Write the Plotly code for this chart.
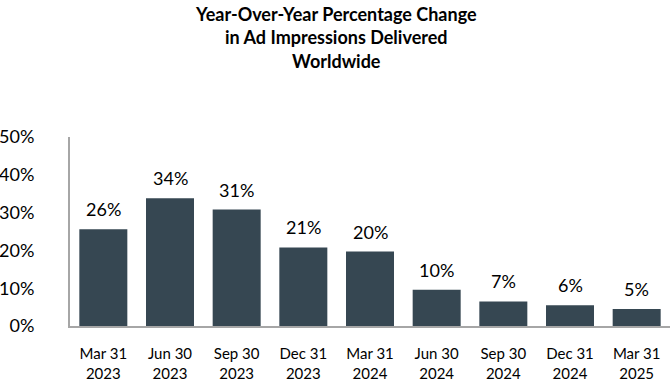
import plotly.graph_objects as go

categories = ["Mar 31<br>2023", "Jun 30<br>2023", "Sep 30<br>2023", "Dec 31<br>2023",
              "Mar 31<br>2024", "Jun 30<br>2024", "Sep 30<br>2024", "Dec 31<br>2024",
              "Mar 31<br>2025"]
values = [25.6, 33.8, 30.8, 20.8, 19.7, 9.6, 6.5, 5.5, 4.5]
value_labels = ["26%", "34%", "31%", "21%", "20%", "10%", "7%", "6%", "5%"]
y_ticks = [0, 10, 20, 30, 40, 50]
y_tick_labels = ["0%", "10%", "20%", "30%", "40%", "50%"]
title_text = "<b>Year-Over-Year Percentage Change<br>in Ad Impressions Delivered<br>Worldwide</b>"

FONT = "Lato"
W, H = 672, 384
ML, MR, MT, MB = 70, 2, 137, 58
plot_h = H - MT - MB

fig = go.Figure()
fig.add_trace(go.Bar(
    x=categories, y=values,
    marker=dict(color="#364752", line=dict(width=0)),
    width=0.72,
    hoverinfo="skip",
))

for c, v, t in zip(categories, values, value_labels):
    fig.add_annotation(x=c, y=v, text=t, showarrow=False, yanchor="middle",
                       yshift=20, font=dict(family=FONT, size=18, color="#000000"))

# title as annotation placed near the top of the page
fig.add_annotation(
    xref="paper", yref="paper",
    x=(W / 2 - ML) / (W - ML - MR), y=1 + (MT - 1) / plot_h,
    xanchor="center", yanchor="top", showarrow=False,
    text=title_text, align="center",
    font=dict(family=FONT, size=18, color="#000000"),
)

fig.update_layout(
    width=W, height=H,
    margin=dict(l=ML, r=MR, t=MT, b=MB, autoexpand=False),
    paper_bgcolor="white", plot_bgcolor="white",
    showlegend=False,
    xaxis=dict(
        showline=True, linecolor="#A6A6A6", linewidth=2,
        showgrid=False, ticks="", ticklabelstandoff=13, automargin=False,
        tickfont=dict(family=FONT, size=15, color="#000000"),
        fixedrange=True,
    ),
    yaxis=dict(
        range=[0, 50], tickvals=y_ticks, ticktext=y_tick_labels,
        showline=True, linecolor="#A6A6A6", linewidth=2,
        showgrid=False, zeroline=False, ticks="", ticklabelstandoff=30,
        automargin=False,
        tickfont=dict(family=FONT, size=18, color="#000000"),
        fixedrange=True,
    ),
)

fig.write_html(
    "out.html",
    config={"displayModeBar": False},
    post_script="document.body.style.margin='0';document.body.style.overflow='hidden';",
)
